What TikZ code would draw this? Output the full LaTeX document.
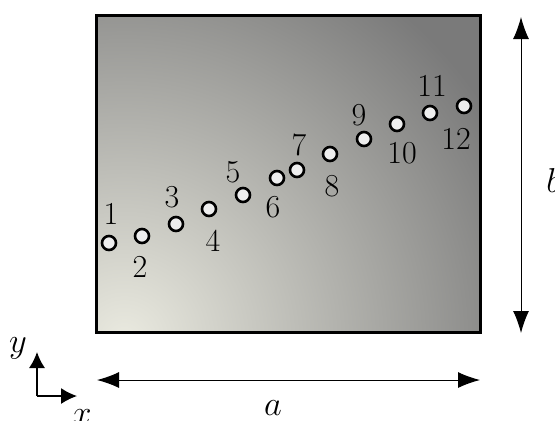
\documentclass[tikz,border=0pt]{standalone}
\usepackage{amsmath,amssymb}
\usepackage{tikz}
\usetikzlibrary{arrows.meta, positioning, calc}
\usepackage{xcolor}
\definecolor{platelight}{RGB}{234,234,224}
\definecolor{platedark}{RGB}{122,122,122}
\definecolor{holefill}{RGB}{238,238,238}
\tikzset{
  % plate with shaded face
  platebox/.style={
    rectangle, draw=black, line width=1.5pt,
    minimum width=192pt, minimum height=158.5pt,
    inner sep=0pt,
    path picture={
      \fill[platedark] (path picture bounding box.south west)
        rectangle (path picture bounding box.north east);
      \shade[inner color=platelight, outer color=platedark]
        ([xshift=14pt,yshift=-4pt]path picture bounding box.south west)
        circle (215pt);
    }
  },
  % measurement holes
  hole/.style={
    circle, draw=black, fill=holefill, line width=1.3pt,
    minimum size=7pt, inner sep=0pt
  },
  holelabel/.style={
    font=\fontsize{16}{18}\selectfont, inner sep=0pt
  },
  dimlabel/.style={
    font=\fontsize{16}{18}\selectfont, inner sep=0pt
  },
  dimarrow/.style={
    {Latex[length=11pt, width=8pt]}-{Latex[length=11pt, width=8pt]},
    line width=0.5pt, draw=black
  },
  axisarrow/.style={
    -{Latex[length=8pt, width=8pt]}, line width=0.7pt
  }
}

\begin{document}
\begin{tikzpicture}[x=0.5pt, y=-0.5pt]
  \useasboundingbox (0,0) rectangle (555,420);

  % --- Plate ---
  \node[platebox] (plate) at (288,173.5) {};

  % --- Holes ---
  \node[hole] (p1) at (109,243) {};
  \node[hole] (p2) at (142,236) {};
  \node[hole] (p3) at (176,224) {};
  \node[hole] (p4) at (209,209) {};
  \node[hole] (p5) at (243,195) {};
  \node[hole] (p6) at (277,178) {};
  \node[hole] (p7) at (297,170) {};
  \node[hole] (p8) at (330,154) {};
  \node[hole] (p9) at (364,139) {};
  \node[hole] (p10) at (397,124) {};
  \node[hole] (p11) at (430,113) {};
  \node[hole] (p12) at (464,106) {};

  % hole numbers
  \node[holelabel] (l1) at (111,214) {1};
  \node[holelabel] (l2) at (140,267) {2};
  \node[holelabel] (l3) at (172,197) {3};
  \node[holelabel] (l4) at (213,241) {4};
  \node[holelabel] (l5) at (233,172) {5};
  \node[holelabel] (l6) at (273,207) {6};
  \node[holelabel] (l7) at (299,145) {7};
  \node[holelabel] (l8) at (332,186) {8};
  \node[holelabel] (l9) at (359,115) {9};
  \node[holelabel] (l10) at (402,153) {10};
  \node[holelabel] (l11) at (432,86) {11};
  \node[holelabel] (l12) at (456,139) {12};

  % --- Dimensions ---
  \coordinate (aL) at (97,380);
  \coordinate (aR) at (480,380);
  \draw[dimarrow] (aL) -- (aR);
  \node[dimlabel] (alab) at (273,408) {$a$};

  \coordinate (bT) at (521,17);
  \coordinate (bB) at (521,333);
  \draw[dimarrow] (bT) -- (bB);
  \node[dimlabel, anchor=west] (blab) at (546,180) {$b$};

  % --- Axes ---
  \coordinate (orig) at (37,396);
  \coordinate (ytip) at (37,352);
  \coordinate (xtip) at (77,396);
  \draw[axisarrow] (orig) -- (ytip);
  \draw[axisarrow] (orig) -- (xtip);
  \node[dimlabel] (ylab) at (18,348) {$y$};
  \node[dimlabel] (xlab) at (82,417) {$x$};

\end{tikzpicture}
\end{document}
